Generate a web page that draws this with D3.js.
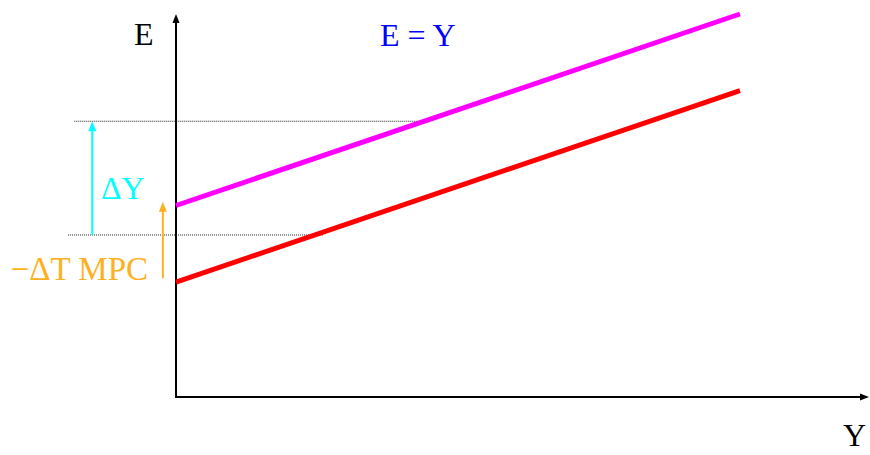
<!DOCTYPE html>
<html>
<head>
<meta charset="utf-8">
<script src="https://cdn.jsdelivr.net/npm/d3@7"></script>
<style>
  body { margin: 0; background: #fff; }
  svg text { font-family: "Liberation Serif", "DejaVu Serif", serif; }
</style>
</head>
<body>
<div id="chart"></div>
<script>
// income (Y) on x, expenditure (E) on y, arbitrary 0-100 units
const redLine = [[0, 30], [81.5, 80]];       // before the tax cut
const magentaLine = [[0, 50], [81.5, 100]];  // after the tax cut
const guideLevels = [
  {e: 72, from: -14.7, to: 35.7},
  {e: 42.3, from: -15.6, to: 21.2}
];
const deltaYArrow = {y: -12.1, from: 42.3, to: 72};
const taxArrow = {y: -1.9, from: 31, to: 51};
const labels = {e: "E", y: "Y", line45: "E = Y", dY: "ΔY", tax: "−ΔT MPC"};

const width = 870, height = 455;

const svg = d3.select("#chart")
    .append("svg")
    .attr("width", width)
    .attr("height", height);

const x = d3.scaleLinear().domain([0, 100]).range([176, 868]);
const y = d3.scaleLinear().domain([0, 100]).range([397, 14]);

const line = d3.line().x(d => x(d[0])).y(d => y(d[1]));

// axes drawn as plain lines with arrow tips
svg.append("path")
    .attr("d", `M${x(0)},${y(0)} V${y(100) + 4}`)
    .attr("stroke", "#000")
    .attr("stroke-width", 2)
    .attr("fill", "none");
svg.append("path")
    .attr("d", `M${x(0) - 1},${y(0)} H${x(100) - 4}`)
    .attr("stroke", "#000")
    .attr("stroke-width", 2)
    .attr("fill", "none");
svg.append("path")
    .attr("d", `M${x(0)},${y(100)} l-3.5,9 h7 z`)
    .attr("fill", "#000");
svg.append("path")
    .attr("d", `M${x(100) + 1},${y(0)} l-9,-3.5 v7 z`)
    .attr("fill", "#000");

// dotted guide lines
svg.selectAll(".guide")
    .data(guideLevels)
    .enter()
    .append("line")
    .attr("class", "guide")
    .attr("x1", d => x(d.from))
    .attr("x2", d => x(d.to))
    .attr("y1", d => y(d.e))
    .attr("y2", d => y(d.e))
    .attr("stroke", "#222")
    .attr("stroke-width", 1)
    .attr("stroke-dasharray", "1,1");

// expenditure lines
svg.append("path")
    .datum(redLine)
    .attr("d", line)
    .attr("stroke", "#ff0000")
    .attr("stroke-width", 5)
    .attr("fill", "none");
svg.append("path")
    .datum(magentaLine)
    .attr("d", line)
    .attr("stroke", "#ff00ff")
    .attr("stroke-width", 5)
    .attr("fill", "none");

function arrow(a, color) {
    const ax = x(a.y);
    svg.append("line")
        .attr("x1", ax).attr("x2", ax)
        .attr("y1", y(a.from)).attr("y2", y(a.to) + 6)
        .attr("stroke", color)
        .attr("stroke-width", 2);
    svg.append("path")
        .attr("d", `M${ax},${y(a.to)} l-4,10 h8 z`)
        .attr("fill", color);
}
arrow(deltaYArrow, "#00ffff");
arrow(taxArrow, "#ffb020");

svg.append("text")
    .attr("x", 134).attr("y", 45)
    .style("font-size", "32px")
    .attr("fill", "#000")
    .text(labels.e);

svg.append("text")
    .attr("x", 843).attr("y", 446)
    .style("font-size", "32px")
    .attr("fill", "#000")
    .text(labels.y);

svg.append("text")
    .attr("x", 380).attr("y", 46)
    .style("font-size", "32px")
    .attr("fill", "#0000ff")
    .text(labels.line45);

svg.append("text")
    .attr("x", 101).attr("y", 199)
    .style("font-size", "32px")
    .attr("fill", "#00ffff")
    .text(labels.dY);

svg.append("text")
    .attr("x", 148).attr("y", 280)
    .attr("text-anchor", "end")
    .style("font-size", "33px")
    .attr("fill", "#ffb020")
    .text(labels.tax);
</script>
</body>
</html>
